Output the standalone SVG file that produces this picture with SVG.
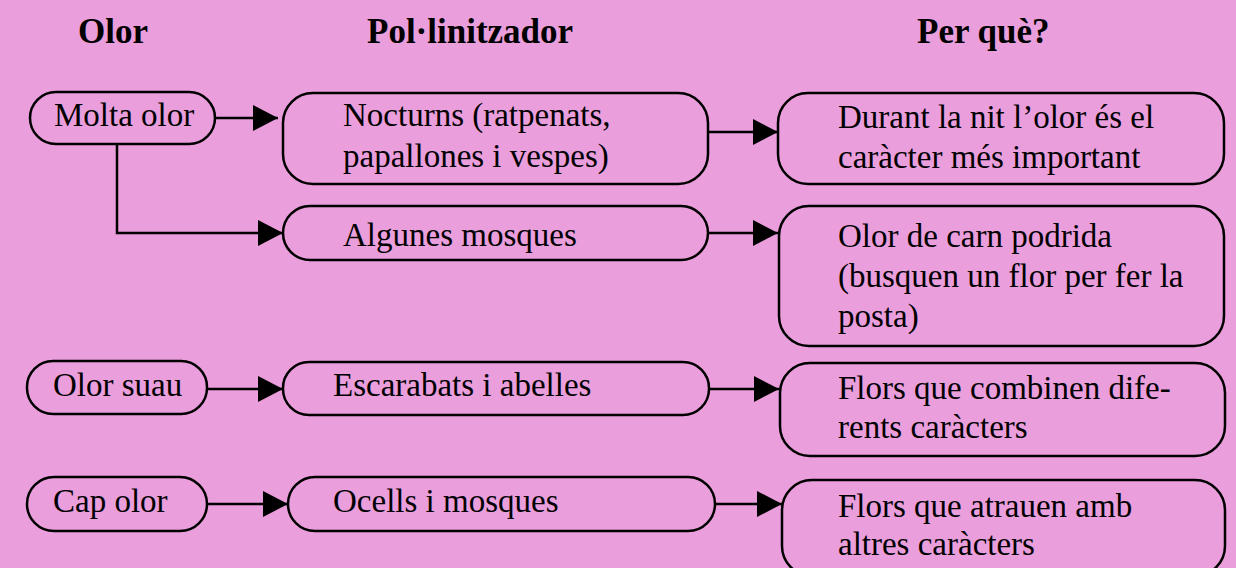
<svg xmlns="http://www.w3.org/2000/svg" width="1236" height="568" viewBox="0 0 1236 568">
<defs>
<style>
.bg{fill:#EA9EDC}
.box{fill:#EA9EDC;stroke:#000;stroke-width:2.5}
.t{font-family:"Liberation Serif","Times New Roman",serif;font-size:33px;fill:#000}
.h{font-family:"Liberation Serif","Times New Roman",serif;font-size:35px;font-weight:bold;fill:#000}
.c{fill:none;stroke:#000;stroke-width:2.5}
</style>
<marker id="ah" markerUnits="userSpaceOnUse" markerWidth="26" markerHeight="28" refX="25" refY="14" orient="auto">
<path d="M0,1 L25,14 L0,27 Z" fill="#000"/>
</marker>
</defs>
<rect class="bg" x="0" y="0" width="1236" height="568"/>

<g id="headers">
<text class="h" x="78" y="43">Olor</text>
<text class="h" x="367" y="43">Pol·linitzador</text>
<text class="h" x="917" y="43">Per què?</text>
</g>

<g id="connectors">
<path class="c" d="M215,118 H278" marker-end="url(#ah)"/>
<path class="c" d="M117,144 V233 H283" marker-end="url(#ah)"/>
<path class="c" d="M708,132 H778" marker-end="url(#ah)"/>
<path class="c" d="M708,233 H778" marker-end="url(#ah)"/>
<path class="c" d="M207,389 H283" marker-end="url(#ah)"/>
<path class="c" d="M709,389 H779" marker-end="url(#ah)"/>
<path class="c" d="M207,504 H288" marker-end="url(#ah)"/>
<path class="c" d="M715,504 H782" marker-end="url(#ah)"/>
</g>

<g id="molta-olor">
<rect class="box" x="30" y="92" width="185" height="52" rx="26" ry="26"/>
<text class="t" x="54" y="126">Molta olor</text>
</g>
<g id="nocturns">
<rect class="box" x="283" y="93" width="425" height="91" rx="30" ry="30"/>
<text class="t" x="343" y="126">Nocturns (ratpenats,</text>
<text class="t" x="343" y="167">papallones i vespes)</text>
</g>
<g id="durant">
<rect class="box" x="778" y="93" width="446" height="91" rx="30" ry="30"/>
<text class="t" x="838" y="128">Durant la nit l’olor és el</text>
<text class="t" x="838" y="168">caràcter més important</text>
</g>
<g id="algunes">
<rect class="box" x="283" y="206" width="425" height="54" rx="27" ry="27"/>
<text class="t" x="343" y="246">Algunes mosques</text>
</g>
<g id="carn">
<rect class="box" x="779" y="206" width="445" height="140" rx="30" ry="30"/>
<text class="t" x="838" y="247">Olor de carn podrida</text>
<text class="t" x="838" y="287">(busquen un flor per fer la</text>
<text class="t" x="838" y="327">posta)</text>
</g>
<g id="olor-suau">
<rect class="box" x="27" y="361" width="180" height="53" rx="26" ry="26"/>
<text class="t" x="53" y="396">Olor suau</text>
</g>
<g id="escarabats">
<rect class="box" x="283" y="362" width="426" height="53" rx="26" ry="26"/>
<text class="t" x="333" y="396">Escarabats i abelles</text>
</g>
<g id="combinen">
<rect class="box" x="780" y="363" width="445" height="93" rx="30" ry="30"/>
<text class="t" x="838" y="399">Flors que combinen dife-</text>
<text class="t" x="838" y="438">rents caràcters</text>
</g>
<g id="cap-olor">
<rect class="box" x="27" y="477" width="180" height="54" rx="27" ry="27"/>
<text class="t" x="53" y="512">Cap olor</text>
</g>
<g id="ocells">
<rect class="box" x="288" y="477" width="427" height="54" rx="27" ry="27"/>
<text class="t" x="333" y="512">Ocells i mosques</text>
</g>
<g id="atrauen">
<rect class="box" x="782" y="480" width="443" height="96" rx="30" ry="30"/>
<text class="t" x="838" y="517">Flors que atrauen amb</text>
<text class="t" x="838" y="555">altres caràcters</text>
</g>
</svg>
